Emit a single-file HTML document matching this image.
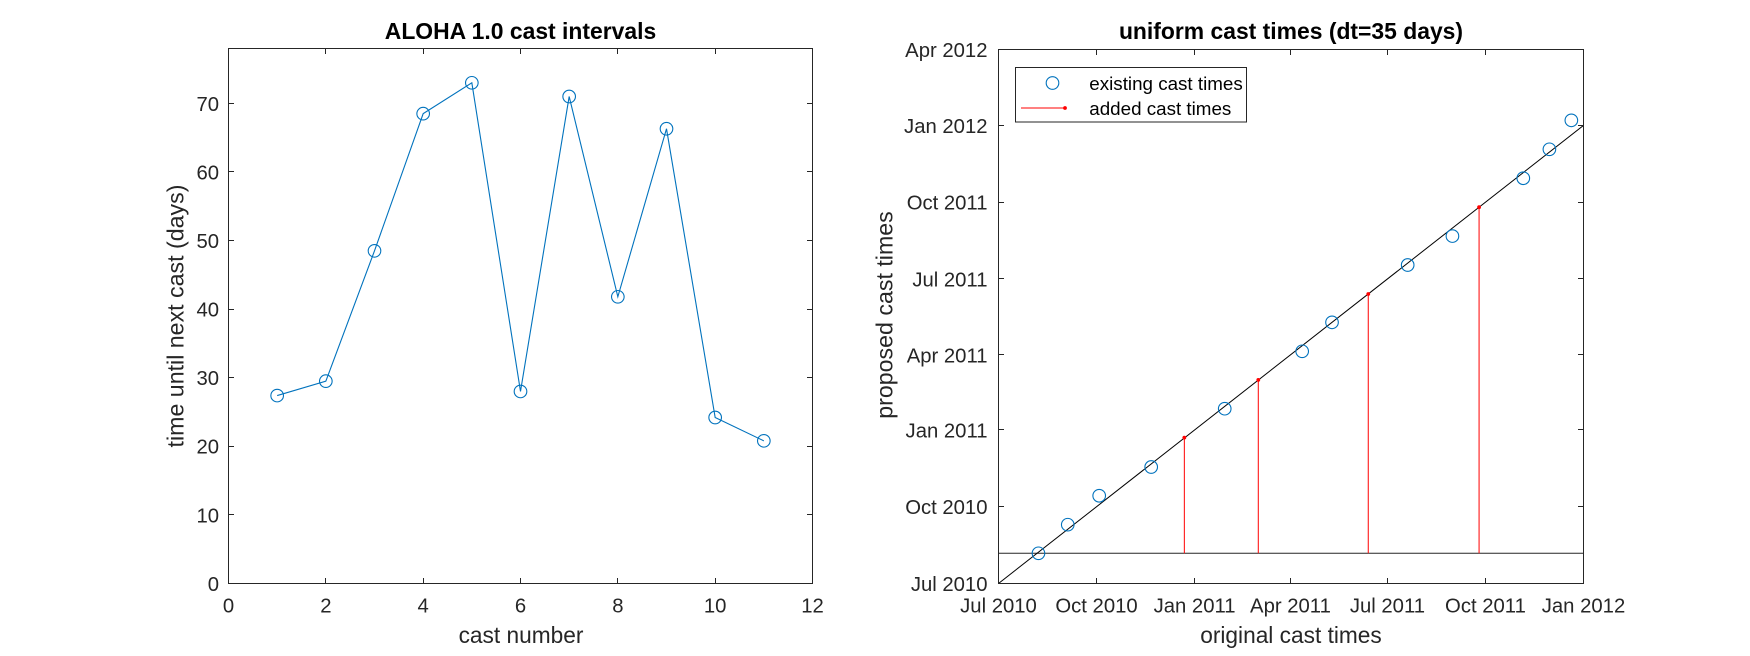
<!DOCTYPE html>
<html lang="en">
<head>
<meta charset="utf-8">
<title>ALOHA cast intervals and uniform cast times</title>
<style>
html,body{margin:0;padding:0;background:#fff;width:1750px;height:656px;overflow:hidden}
svg{display:block}
text{font-family:"Liberation Sans",Arial,sans-serif}
.tick{font-size:20.3px;fill:#262626}
.lab{font-size:22.7px;fill:#262626;text-anchor:middle}
.ylab{font-size:23.2px;fill:#262626;text-anchor:middle}
.ttl{font-size:22.9px;font-weight:bold;fill:#000;text-anchor:middle}
.leg{font-size:18.8px;fill:#000}
</style>
</head>
<body>
<svg id="fig" xmlns="http://www.w3.org/2000/svg" width="1750" height="656" viewBox="0 0 1750 656">
  <rect x="0" y="0" width="1750" height="656" fill="#fff"/>
  <g id="left">
    <text class="ttl" x="520.5" y="39">ALOHA 1.0 cast intervals</text>
    <text class="lab" x="521" y="643">cast number</text>
    <text class="ylab" transform="translate(183.5 316) rotate(-90)">time until next cast (days)</text>
  </g>
  <g id="right">
    <text class="ttl" x="1291" y="39">uniform cast times (dt=35 days)</text>
    <text class="lab" x="1291" y="643">original cast times</text>
    <text class="ylab" transform="translate(892.5 315) rotate(-90)">proposed cast times</text>
  </g>
  <g id="legend">
    <rect x="1015.5" y="67.5" width="231" height="54.5" fill="#fff" stroke="#262626" stroke-width="1"/>
    <circle cx="1052.5" cy="83" r="6.3" fill="none" stroke="#0072BD" stroke-width="1.1"/>
    <text class="leg" x="1089.3" y="90">existing cast times</text>
    <line x1="1021" y1="108" x2="1065" y2="108" stroke="#FF0000" stroke-width="1"/>
    <circle cx="1065" cy="108" r="1.9" fill="#FF0000"/>
    <text class="leg" x="1089.3" y="115">added cast times</text>
  </g>
</svg>
<script>
/* Left chart data */
const castNumbers = [1, 2, 3, 4, 5, 6, 7, 8, 9, 10, 11];
const castIntervals = [27.4, 29.5, 48.5, 68.5, 73, 28, 71, 41.8, 66.3, 24.2, 20.8];
const leftXTicks = [0, 2, 4, 6, 8, 10, 12];
const leftYTicks = [0, 10, 20, 30, 40, 50, 60, 70];
const leftXRange = [0, 12];
const leftYRange = [0, 78];

/* Right chart data: days since 1 Jul 2010 */
const existingOriginalDays = [37.5, 65, 94.5, 143.3, 212.3, 285, 313, 384, 426, 492.5, 517, 537.6];
const existingProposedDays = [36.2, 70.5, 105.2, 139.6, 209.5, 278.3, 313, 381.7, 416.4, 485.7, 520.4, 555.1];
const addedOriginalDays = [174.4, 243.8, 347, 451];
const addedProposedDays = [174.8, 244, 347, 451];
const firstCastDay = [36.2];
const identityLineDays = [0, 549];
const rightXTickDays = [0, 92, 184, 274, 365, 457, 549];
const rightXTickLabels = ['Jul 2010', 'Oct 2010', 'Jan 2011', 'Apr 2011', 'Jul 2011', 'Oct 2011', 'Jan 2012'];
const rightYTickDays = [0, 92, 184, 274, 365, 457, 549, 640];
const rightYTickLabels = ['Jul 2010', 'Oct 2010', 'Jan 2011', 'Apr 2011', 'Jul 2011', 'Oct 2011', 'Jan 2012', 'Apr 2012'];
const rightXRange = [0, 549];
const rightYRange = [0, 640];

const NS = 'http://www.w3.org/2000/svg';
const BLUE = '#0072BD', RED = '#FF0000', INK = '#262626';
const leftG = document.getElementById('left');
const rightG = document.getElementById('right');

function make(parent, tag, attrs, text) {
  const el = document.createElementNS(NS, tag);
  for (const k in attrs) el.setAttribute(k, attrs[k]);
  if (text !== undefined) el.textContent = text;
  parent.appendChild(el);
  return el;
}
function linear(domain, a, b) {
  return v => a + (v - domain[0]) * (b - a) / (domain[1] - domain[0]);
}

function drawFrame(g, box, xs, ys, xTicks, yTicks, xLabels, yLabels, yLabelX) {
  xTicks.forEach((t, i) => {
    const x = Math.round(xs(t) - 0.5) + 0.5;
    const low = make(g, 'line', {x1: x, x2: x, y1: box.b, y2: box.b - 5.5, stroke: INK, 'stroke-width': 1});
    
    
    const high = make(g, 'line', {x1: x, x2: x, y1: box.t, y2: box.t + 5.5, stroke: INK, 'stroke-width': 1});
    
    
    const label = make(g, 'text', {class: 'tick', x: xs(t), y: 612.7, 'text-anchor': 'middle'}, xLabels[i]);
    
    
  });
  yTicks.forEach((t, i) => {
    const y = Math.round(ys(t) - 0.5) + 0.5;
    const low = make(g, 'line', {x1: box.l, x2: box.l + 5.5, y1: y, y2: y, stroke: INK, 'stroke-width': 1});
    
    
    const high = make(g, 'line', {x1: box.r, x2: box.r - 5.5, y1: y, y2: y, stroke: INK, 'stroke-width': 1});
    
    
    const label = make(g, 'text', {class: 'tick', x: yLabelX, y: ys(t) + 7.4, 'text-anchor': 'end'}, yLabels[i]);
    
    
  });
  const frame = make(g, 'rect', {x: box.l, y: box.t, width: box.r - box.l, height: box.b - box.t, fill: 'none', stroke: INK, 'stroke-width': 1});
  
  
}

/* Left chart */
const lBox = {l: 228.5, r: 812.5, t: 48.5, b: 583.5};
const lx = linear(leftXRange, lBox.l, lBox.r);
const ly = linear(leftYRange, lBox.b, lBox.t);
const intervalLine = make(leftG, 'polyline', {
  points: castNumbers.map((n, i) => lx(n) + ',' + ly(castIntervals[i])).join(' '),
  fill: 'none', stroke: BLUE, 'stroke-width': 1.1
});


castNumbers.forEach((n, i) => {
  const pt = make(leftG, 'circle', {cx: lx(n), cy: ly(castIntervals[i]), r: 6.3, fill: 'none', stroke: BLUE, 'stroke-width': 1.1});
  
  
});
drawFrame(leftG, lBox, lx, ly, leftXTicks, leftYTicks, leftXTicks, leftYTicks, 219);

/* Right chart */
const rBox = {l: 998.5, r: 1583.5, t: 49.5, b: 583.5};
const rx = linear(rightXRange, rBox.l, rBox.r);
const ry = linear(rightYRange, rBox.b, rBox.t);
const baseline = make(rightG, 'line', {x1: rBox.l, x2: rBox.r, y1: ry(firstCastDay[0]), y2: ry(firstCastDay[0]), stroke: INK, 'stroke-width': 1});


const identity = make(rightG, 'line', {
  x1: rx(identityLineDays[0]), y1: ry(identityLineDays[0]),
  x2: rx(identityLineDays[1]), y2: ry(identityLineDays[1]),
  stroke: '#000', 'stroke-width': 1
});


addedOriginalDays.forEach((d, i) => {
  const stem = make(rightG, 'line', {x1: rx(d), x2: rx(d), y1: ry(firstCastDay[0]), y2: ry(addedProposedDays[i]), stroke: RED, 'stroke-width': 1});
  
  
  const dot = make(rightG, 'circle', {cx: rx(d), cy: ry(addedProposedDays[i]), r: 1.9, fill: RED});
  
  
});
existingOriginalDays.forEach((d, i) => {
  const pt = make(rightG, 'circle', {cx: rx(d), cy: ry(existingProposedDays[i]), r: 6.3, fill: 'none', stroke: BLUE, 'stroke-width': 1.1});
  
  
});
drawFrame(rightG, rBox, rx, ry, rightXTickDays, rightYTickDays, rightXTickLabels, rightYTickLabels, 987.5);
document.getElementById('fig').appendChild(document.getElementById('legend'));
</script>
</body>
</html>
